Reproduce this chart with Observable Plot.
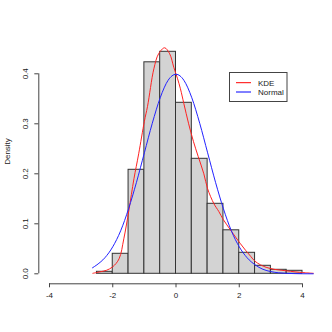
<!DOCTYPE html>
<html>
<head>
<meta charset="utf-8">
<script src="https://cdn.jsdelivr.net/npm/d3@7"></script>
<script src="https://cdn.jsdelivr.net/npm/@observablehq/plot@0.6"></script>
<style>
  html, body { margin: 0; padding: 0; background: #fff; }
  #chart { position: relative; width: 332px; height: 332px; }
</style>
</head>
<body>
<div id="chart"></div>
<script>
// Histogram breaks and densities
const breaks = [-2.5, -2, -1.5, -1, -0.5, 0, 0.5, 1, 1.5, 2, 2.5, 3, 3.5, 4];
const densities = [0.004, 0.040, 0.208, 0.423, 0.444, 0.342, 0.230, 0.140, 0.087, 0.042, 0.016, 0.008, 0.006];

// KDE curve (red), read points
const kdeX = [-2.63, -2.4, -2.2, -2.0, -1.8, -1.65, -1.49, -1.33, -1.18, -1.0, -0.9, -0.7, -0.55, -0.36, -0.2, -0.07, 0.05, 0.14, 0.25, 0.4, 0.55, 0.7, 0.88, 1.0, 1.2, 1.35, 1.5, 1.72, 1.9, 2.04, 2.2, 2.36, 2.5, 2.67, 2.85, 3.1, 3.35, 3.62, 3.9, 4.1, 4.34];
const kdeY = [0.001, 0.004, 0.007, 0.014, 0.030, 0.070, 0.127, 0.190, 0.240, 0.305, 0.335, 0.410, 0.440, 0.452, 0.440, 0.413, 0.390, 0.370, 0.340, 0.300, 0.265, 0.235, 0.200, 0.170, 0.140, 0.125, 0.108, 0.088, 0.072, 0.060, 0.047, 0.035, 0.025, 0.018, 0.013, 0.009, 0.007, 0.005, 0.003, 0.002, 0.001];

// Normal curve (blue), read points
const normX = [-2.64, -2.5, -2.25, -2, -1.75, -1.5, -1.25, -1, -0.75, -0.5, -0.25, 0, 0.25, 0.5, 0.75, 1, 1.25, 1.5, 1.75, 2, 2.25, 2.5, 2.75, 3, 3.25, 3.5, 3.75, 4, 4.34];
const normY = [0.012, 0.018, 0.032, 0.054, 0.086, 0.130, 0.183, 0.242, 0.301, 0.352, 0.387, 0.399, 0.387, 0.352, 0.301, 0.242, 0.183, 0.130, 0.086, 0.054, 0.032, 0.018, 0.009, 0.0044, 0.002, 0.0009, 0.0004, 0.0001, 0.00003];

// Axis ticks
const xTicks = [-4, -2, 0, 2, 4];
const yTicks = [0, 0.1, 0.2, 0.3, 0.4];
const yLabel = "Density";
const legendLabels = ["KDE", "Normal"];
const legendColors = ["red", "blue"];

const bars = densities.map((d, i) => ({x1: breaks[i], x2: breaks[i + 1], density: d}));
const kde = kdeX.map((x, i) => ({x, y: kdeY[i]}));
const norm = normX.map((x, i) => ({x, y: normY[i]}));

const font = "Liberation Sans, Arial, Helvetica, sans-serif";
const axisColor = "#444";
const textColor = "#222";

const plot = Plot.plot({
  width: 332,
  height: 332,
  marginLeft: 38.3,
  marginRight: 20,
  marginTop: 18.7,
  marginBottom: 48.7,
  style: {fontFamily: font, fontSize: "8px", color: textColor, background: "#fff"},
  x: {domain: [-4, 4], range: [49, 302]},
  y: {domain: [0, 0.4], range: [273.3, 73.3]},
  marks: [
    Plot.rect(bars, {x1: "x1", x2: "x2", y1: 0, y2: "density", fill: "#d3d3d3", stroke: "#333", strokeWidth: 1}),
    Plot.line(kde, {x: "x", y: "y", stroke: "#f22", strokeWidth: 1, curve: "catmull-rom"}),
    Plot.line(norm, {x: "x", y: "y", stroke: "#22f", strokeWidth: 1, curve: "monotone-x"}),
    // x axis
    Plot.ruleY([0], {x1: xTicks[0], x2: xTicks[xTicks.length - 1], dy: 10, stroke: axisColor}),
    Plot.axisX(xTicks, {tickSize: 4, tickPadding: 5, stroke: axisColor, fill: textColor, fontSize: 8, label: null, tickFormat: d => d}),
    // y axis
    Plot.ruleX([xTicks[0]], {y1: yTicks[0], y2: yTicks[yTicks.length - 1], dx: -10.7, stroke: axisColor}),
    Plot.axisY(yTicks, {tickSize: 4, stroke: axisColor, label: null, tickFormat: () => ""}),
    Plot.text(yTicks, {y: d => d, text: d => d.toFixed(1), frameAnchor: "left", dx: -13.3, rotate: -90, textAnchor: "middle", lineAnchor: "middle", fontSize: 8, fill: textColor}),
    Plot.text([yLabel], {text: d => d, frameAnchor: "left", dx: -31.6, rotate: -90, textAnchor: "middle", lineAnchor: "middle", fontSize: 8, fill: textColor})
  ]
});

document.getElementById("chart").appendChild(plot);

// Legend
const svg = d3.select(plot);
const lg = svg.append("g").attr("font-family", font).attr("font-size", 8).attr("text-anchor", "start");
lg.append("rect").attr("x", 229.5).attr("y", 72.5).attr("width", 57.5).attr("height", 29)
  .attr("fill", "white").attr("stroke", "#444").attr("stroke-width", 1);
legendLabels.forEach((lab, i) => {
  const yy = 82.7 + i * 9.3;
  lg.append("line").attr("x1", 236).attr("x2", 251).attr("y1", yy).attr("y2", yy)
    .attr("stroke", legendColors[i]).attr("stroke-width", 1);
  lg.append("text").attr("x", 258).attr("y", yy).attr("dy", "0.35em").attr("text-anchor", "start").attr("fill", textColor).text(lab);
});
</script>
</body>
</html>
